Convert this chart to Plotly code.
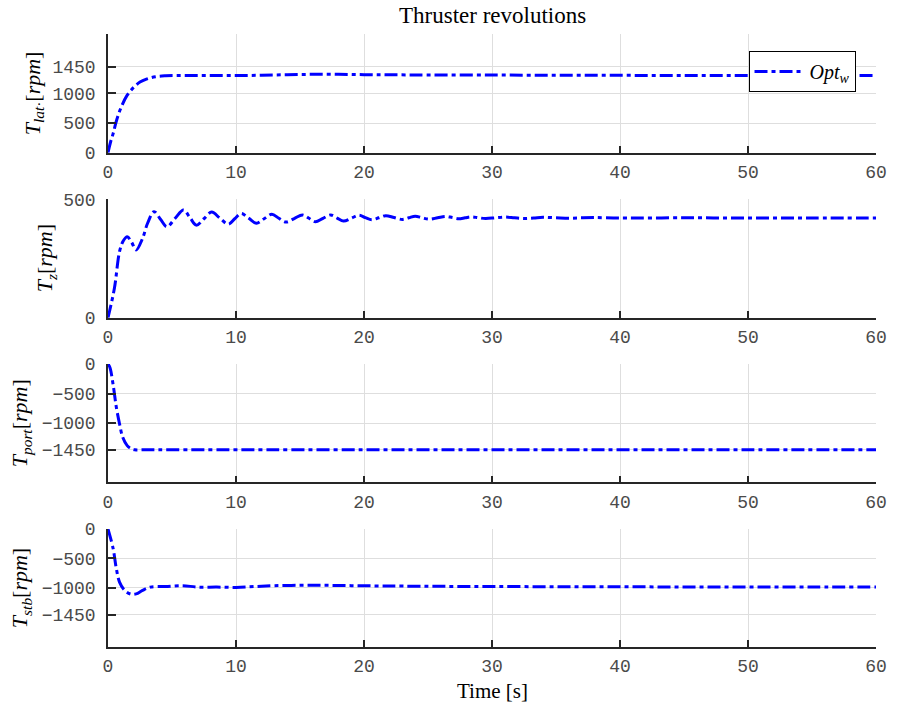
import plotly.graph_objects as go

# ---------------- data ----------------
t_lat = [0, 0.2, 0.4, 0.65, 1.0, 1.5, 2.0, 2.5, 3.0, 3.7, 4.5, 6, 8, 10, 12, 14, 16, 18, 20, 22, 25, 30, 35, 40, 45, 50, 55, 60]
v_lat = [0, 180, 320, 530, 750, 970, 1100, 1190, 1240, 1280, 1295, 1300, 1300, 1300, 1305, 1315, 1320, 1320, 1315, 1312, 1310, 1308, 1305, 1303, 1302, 1300, 1300, 1300]

t_z = [0, 0.5, 0.9, 1.2, 1.5, 1.85, 2.2, 2.7, 3.1, 3.6, 4.1, 4.6, 5.25, 5.9, 6.4, 6.9, 7.5, 8.1, 8.75, 9.4, 9.9,
       10.4, 11.0, 11.6, 12.2, 12.8, 13.35, 13.9, 14.55, 15.2, 15.7, 16.2, 16.8, 17.4, 17.9, 18.4, 19.0, 19.6,
       20.1, 20.6, 21.15, 21.7, 22.35, 23.0, 23.5, 24.0, 24.55, 25.1, 25.75, 26.4, 26.9, 27.4, 27.9, 28.4,
       28.95, 29.5, 30.25, 31, 31.75, 32.5, 33.25, 34, 35, 36, 37, 38, 40, 45, 50, 55, 60]
v_z = [0, 124, 279, 325, 342, 318, 286, 335, 400, 448, 416, 384, 420, 455, 423, 391, 418, 446, 420, 395, 418,
       440, 420, 399, 418, 437, 420, 404, 419, 434, 420, 405, 420, 434, 421, 408, 420, 433,
       423, 414, 422, 431, 423, 415, 422, 429, 422, 416, 422, 428, 423, 418, 422, 426,
       422, 419, 422, 425, 422, 419, 421, 424, 422, 420, 422, 423, 421, 422, 421, 421, 421]

t_port = [0, 0.15, 0.4, 0.65, 0.9, 1.15, 1.5, 1.8, 2.1, 2.5, 3, 5, 10, 20, 30, 40, 50, 60]
v_port = [0, -60, -350, -730, -1010, -1240, -1380, -1430, -1450, -1452, -1450, -1450, -1450, -1450, -1450, -1450, -1450, -1450]

t_stb = [0, 0.4, 0.65, 0.9, 1.3, 1.8, 2.2, 2.7, 3.3, 4.5, 5.8, 7, 8.5, 10, 11.5, 13, 15, 17, 19, 21, 23, 26, 30, 35, 40, 45, 50, 55, 60]
v_stb = [0, -330, -670, -900, -1040, -1105, -1100, -1040, -985, -975, -960, -985, -985, -990, -975, -960, -955, -955, -960, -965, -968, -972, -975, -978, -980, -982, -984, -985, -985]

x_ticks = [0, 10, 20, 30, 40, 50, 60]
y_ticks = [
    [0, 500, 1000, 1450],
    [0, 500],
    [0, -500, -1000, -1450],
    [0, -500, -1000, -1450],
]
y_ranges = [[0, 2000], [0, 500], [-2000, 0], [-2000, 0]]
y_titles = [
    "<i>T</i><sub><i>lat</i>·</sub>[<i>rpm</i>]",
    "<i>T</i><sub><i>z</i></sub>[<i>rpm</i>]",
    "<i>T</i><sub><i>port</i></sub>[<i>rpm</i>]",
    "<i>T</i><sub><i>stb</i></sub>[<i>rpm</i>]",
]
legend_name = "<i>Opt</i><sub><i>w</i></sub>"
title_text = "Thruster revolutions"
xlabel_text = "Time [s]"

series = [(t_lat, v_lat), (t_z, v_z), (t_port, v_port), (t_stb, v_stb)]

# ---------------- layout constants ----------------
W, H = 899, 703
ML, MR, MT, MB = 108, 13, 34, 56
domains = [[0.8064, 1.0], [0.5372, 0.7303], [0.2687, 0.4617], [0.0, 0.1925]]

tick_font = dict(family="Liberation Mono", size=18, color="#4a4a4a")
serif = "Liberation Serif"
axis_col = "#262626"
grid_col = "#dedede"

fig = go.Figure()
for i, (tt, vv) in enumerate(series):
    n = "" if i == 0 else str(i + 1)
    fig.add_trace(go.Scatter(
        x=tt, y=vv, mode="lines", name=legend_name,
        line=dict(color="#0000ff", width=3, dash="13px,4px,4px,4px", shape="spline", smoothing=1.0),
        xaxis="x" + n, yaxis="y" + n, showlegend=(i == 0),
    ))

layout = dict(
    width=W, height=H,
    margin=dict(l=ML, r=MR, t=MT, b=MB),
    paper_bgcolor="white", plot_bgcolor="white",
    showlegend=True,
    legend=dict(
        x=0.834, y=0.9723, xanchor="left", yanchor="top",
        bgcolor="white", bordercolor="black", borderwidth=1,
        font=dict(family=serif, size=20, color="black"),
        itemwidth=50,
    ),
)

annotations = []
ytitle_x = [33, 45, 20, 20]
for i in range(4):
    n = "" if i == 0 else str(i + 1)
    layout["xaxis" + n] = dict(
        domain=[0, 1], anchor="y" + n, range=[0, 60], tickvals=x_ticks,
        showgrid=True, gridcolor=grid_col, gridwidth=1, zeroline=False,
        showline=True, linecolor=axis_col, linewidth=1.5,
        ticks="inside", ticklen=7, tickwidth=1.5, tickcolor=axis_col,
        tickfont=tick_font, ticklabelstandoff=2,
    )
    layout["yaxis" + n] = dict(
        domain=domains[i], anchor="x" + n, range=y_ranges[i], tickvals=y_ticks[i],
        showgrid=True, gridcolor=grid_col, gridwidth=1, zeroline=False,
        showline=True, linecolor=axis_col, linewidth=1.5,
        ticks="inside", ticklen=8, tickwidth=1.5, tickcolor=axis_col,
        tickfont=tick_font, ticklabelstandoff=7,
    )
    d0, d1 = domains[i]
    annotations.append(dict(
        text=y_titles[i], xref="paper", yref="paper",
        x=(ytitle_x[i] - ML) / (W - ML - MR), y=(d0 + d1) / 2,
        xanchor="center", yanchor="middle", textangle=-90, showarrow=False,
        font=dict(family=serif, size=22, color="black"),
    ))

annotations.append(dict(
    text=title_text, xref="paper", yref="paper", x=0.5, y=1 + (MT - 16) / (H - MT - MB),
    xanchor="center", yanchor="middle", showarrow=False,
    font=dict(family=serif, size=23, color="black"),
))
annotations.append(dict(
    text=xlabel_text, xref="paper", yref="paper", x=0.5, y=-(691 - (H - MB)) / (H - MT - MB),
    xanchor="center", yanchor="middle", showarrow=False,
    font=dict(family=serif, size=21, color="black"),
))
layout["annotations"] = annotations

fig.update_layout(**layout)
fig.write_html("out.html")
